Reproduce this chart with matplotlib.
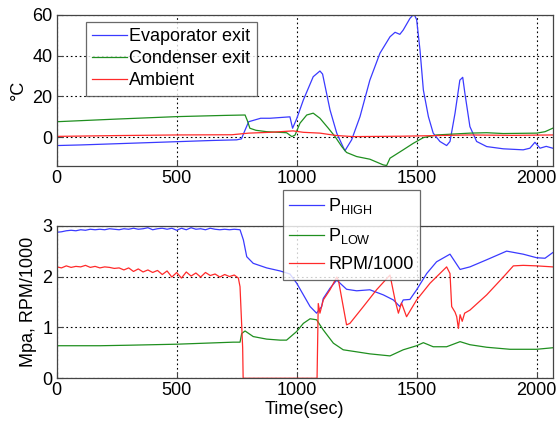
import matplotlib
matplotlib.use("Agg")
import matplotlib.pyplot as plt

plt.rcParams['font.family'] = ['Liberation Sans', 'DejaVu Sans']
plt.rcParams['mathtext.fontset'] = 'custom'
plt.rcParams['mathtext.rm'] = 'Liberation Sans'
plt.rcParams['mathtext.it'] = 'Liberation Sans'

# ---- temperatures (deg C) ----
evap_t = [0, 100, 250, 500, 650, 750, 770, 785, 800, 850, 889, 972, 983, 1000, 1028, 1069,
          1097, 1108, 1139, 1167, 1201, 1229, 1264, 1305, 1347, 1389, 1410, 1430, 1444, 1472,
          1489, 1500, 1514, 1528, 1549, 1569, 1597, 1625, 1639, 1660, 1680, 1692, 1701, 1722,
          1750, 1792, 1861, 1944, 1972, 1993, 2014, 2040, 2067]
evap_v = [-4.1, -3.8, -3.2, -2.2, -1.6, -1.3, -0.8, 3.5, 7.6, 9.3, 9.3, 10.0, 4.4, 9.0, 18.3, 29.7,
          32.5, 31.0, 13.4, 2.0, -6.7, -1.3, 10.1, 28.0, 41.2, 49.3, 51.5, 50.5, 52.6, 58.3,
          60.5, 57.7, 42.8, 23.2, 10.1, 2.0, -2.1, -4.1, -2.1, 11.8, 28.0, 29.4, 21.6, 5.2,
          -2.1, -4.6, -5.7, -6.2, -5.4, -2.5, -5.4, -4.5, -5.4]

cond_t = [0, 250, 500, 700, 785, 795, 805, 830, 875, 958, 980, 993, 1014, 1042, 1069, 1097,
          1132, 1160, 1188, 1208, 1250, 1305, 1361, 1375, 1389, 1444, 1486, 1528, 1583, 1722,
          1792, 1861, 2000, 2035, 2067]
cond_v = [7.6, 8.9, 10.1, 10.7, 10.9, 8.0, 4.4, 3.4, 2.7, 2.2, 0.3, 1.0, 6.9, 10.9, 11.8, 9.3,
          4.4, 0.3, -4.6, -7.5, -9.5, -10.8, -13.6, -13.9, -10.3, -6.2, -3.0, -0.2, 1.1, 2.0,
          2.2, 1.8, 2.0, 2.7, 4.4]

amb_t = [0, 250, 500, 730, 800, 889, 985, 1028, 1097, 1167, 1236, 1444, 1722, 1900, 2067]
amb_v = [0.4, 0.8, 1.1, 1.2, 2.0, 2.4, 3.1, 2.4, 2.0, 0.8, 0.3, 0.5, 1.1, 0.9, 1.1]

# ---- pressures (MPa) and compressor speed ----
phigh_t = [0, 20, 40, 60, 80, 100, 120, 140, 160, 180, 200, 220, 240, 260, 280, 300, 320, 340,
           360, 380, 400, 420, 440, 460, 480, 500, 520, 540, 560, 580, 600, 620, 640, 660, 680,
           700, 720, 740, 764, 778, 792, 819, 875, 931, 972, 1000, 1028, 1056, 1083, 1104,
           1111, 1139, 1167, 1208, 1250, 1305, 1361, 1403, 1430, 1444, 1472, 1500, 1542, 1583,
           1639, 1681, 1722, 1792, 1875, 1944, 2000, 2035, 2067]
phigh_v = [2.87, 2.88, 2.90, 2.91, 2.90, 2.92, 2.91, 2.93, 2.92, 2.93, 2.92, 2.94, 2.93, 2.92,
           2.94, 2.93, 2.95, 2.93, 2.94, 2.96, 2.92, 2.94, 2.95, 2.93, 2.95, 2.91, 2.95, 2.92,
           2.96, 2.93, 2.94, 2.92, 2.95, 2.93, 2.92, 2.93, 2.92, 2.93, 2.92, 2.72, 2.39, 2.26,
           2.17, 2.11, 2.05, 1.87, 1.64, 1.41, 1.28, 1.41, 1.57, 1.77, 1.93, 1.75, 1.72, 1.74,
           1.64, 1.54, 1.41, 1.54, 1.55, 1.74, 2.06, 2.29, 2.44, 2.14, 2.19, 2.33, 2.50, 2.44,
           2.37, 2.36, 2.47]

plow_t = [0, 181, 300, 500, 736, 764, 771, 785, 819, 875, 931, 958, 1000, 1028, 1056, 1083,
          1111, 1153, 1194, 1250, 1305, 1389, 1444, 1500, 1528, 1569, 1625, 1681, 1722, 1792,
          1889, 2000, 2067]
plow_v = [0.64, 0.64, 0.65, 0.67, 0.71, 0.71, 0.88, 0.93, 0.82, 0.77, 0.75, 0.75, 0.92, 1.08,
          1.17, 1.15, 0.95, 0.69, 0.56, 0.52, 0.48, 0.44, 0.56, 0.64, 0.70, 0.62, 0.62, 0.72,
          0.66, 0.61, 0.57, 0.57, 0.60]

rpm_t = [0, 20, 40, 60, 80, 100, 120, 140, 160, 180, 200, 220, 240, 260, 280, 300, 320, 340,
         360, 380, 400, 420, 440, 460, 480, 500, 520, 540, 560, 580, 600, 620, 640, 660, 680,
         700, 720, 740, 757, 764, 775, 777, 1085, 1090, 1097, 1111, 1139, 1167, 1174, 1208,
         1222, 1278, 1333, 1389, 1410, 1424, 1437, 1458, 1500, 1556, 1625, 1639, 1646, 1660,
         1667, 1674, 1681, 1690, 1700, 1722, 1792, 1861, 1903, 1944, 2000, 2067]
rpm_v = [2.19, 2.17, 2.21, 2.18, 2.20, 2.19, 2.22, 2.18, 2.20, 2.17, 2.19, 2.18, 2.16, 2.17,
         2.13, 2.17, 2.10, 2.15, 2.09, 2.13, 2.08, 2.12, 2.04, 2.11, 1.99, 2.08, 1.97, 2.09,
         2.01, 2.07, 1.99, 2.08, 2.02, 2.05, 1.99, 2.04, 2.00, 2.03, 1.97, 1.80, 0.6, 0.0, 0.0,
         1.47, 1.28, 1.54, 1.74, 1.99, 1.93, 1.05, 1.08, 1.41, 1.74, 2.03, 1.54, 1.28, 1.48,
         1.21, 1.54, 1.87, 2.19, 2.06, 1.41, 1.30, 1.21, 0.98, 1.25, 1.12, 1.28, 1.34, 1.64,
         1.99, 2.21, 2.22, 2.21, 2.19]

xticks = [0, 500, 1000, 1500, 2000]

blue = '#3a3aff'
green = '#1f8f1f'
red = '#ff2a2a'

fig = plt.figure(figsize=(5.58, 4.22), dpi=100)
ax1 = fig.add_axes([0.1016, 0.6073, 0.8889, 0.3572])
ax2 = fig.add_axes([0.1016, 0.1036, 0.8889, 0.3616])

ax1.plot(evap_t, evap_v, color=blue, lw=0.9, label='Evaporator exit')
ax1.plot(cond_t, cond_v, color=green, lw=0.9, label='Condenser exit')
ax1.plot(amb_t, amb_v, color=red, lw=0.9, label='Ambient')
ax1.set_xlim(0, 2067)
ax1.set_ylim(-14, 60)
ax1.set_yticks([0, 20, 40, 60])
ax1.set_ylabel('°C', fontsize=13)

ax2.plot(phigh_t, phigh_v, color=blue, lw=0.9, label=r'P$_{\mathrm{HIGH}}$')
ax2.plot(plow_t, plow_v, color=green, lw=0.9, label=r'P$_{\mathrm{LOW}}$')
ax2.plot(rpm_t, rpm_v, color=red, lw=0.9, label='RPM/1000')
ax2.set_xlim(0, 2067)
ax2.set_ylim(0, 3)
ax2.set_yticks([0, 1, 2, 3])
ax2.set_ylabel('Mpa, RPM/1000', fontsize=13)
ax2.set_xlabel('Time(sec)', fontsize=13, labelpad=1)

for ax in (ax1, ax2):
    ax.set_xticks(xticks)
    ax.grid(True, color='black', linestyle=(0, (1.5, 2.5)), linewidth=0.8)
    ax.tick_params(direction='in', labelsize=13, length=4, color='#444444', pad=3)
    for s in ax.spines.values():
        s.set_color('#444444')
        s.set_linewidth(0.9)

leg1 = ax1.legend(loc='upper left', bbox_to_anchor=(86 / 558, 1 - 22 / 422),
                  bbox_transform=fig.transFigure, fontsize=13, frameon=True, fancybox=False,
                  borderpad=0.35, handlelength=1.9, handletextpad=0.15, labelspacing=0.28,
                  borderaxespad=0)
leg1.get_frame().set_edgecolor('#444444')
leg1.get_frame().set_linewidth(0.9)

leg2 = ax2.legend(loc='upper left', bbox_to_anchor=(283 / 558, 1 - 190 / 422),
                  bbox_transform=fig.transFigure, fontsize=13, frameon=True, fancybox=False,
                  borderpad=0.35, handlelength=1.9, handletextpad=0.25, labelspacing=0.55,
                  borderaxespad=0)
leg2.get_frame().set_edgecolor('#444444')
leg2.get_frame().set_linewidth(0.9)

fig.savefig('out.png', dpi=100)
